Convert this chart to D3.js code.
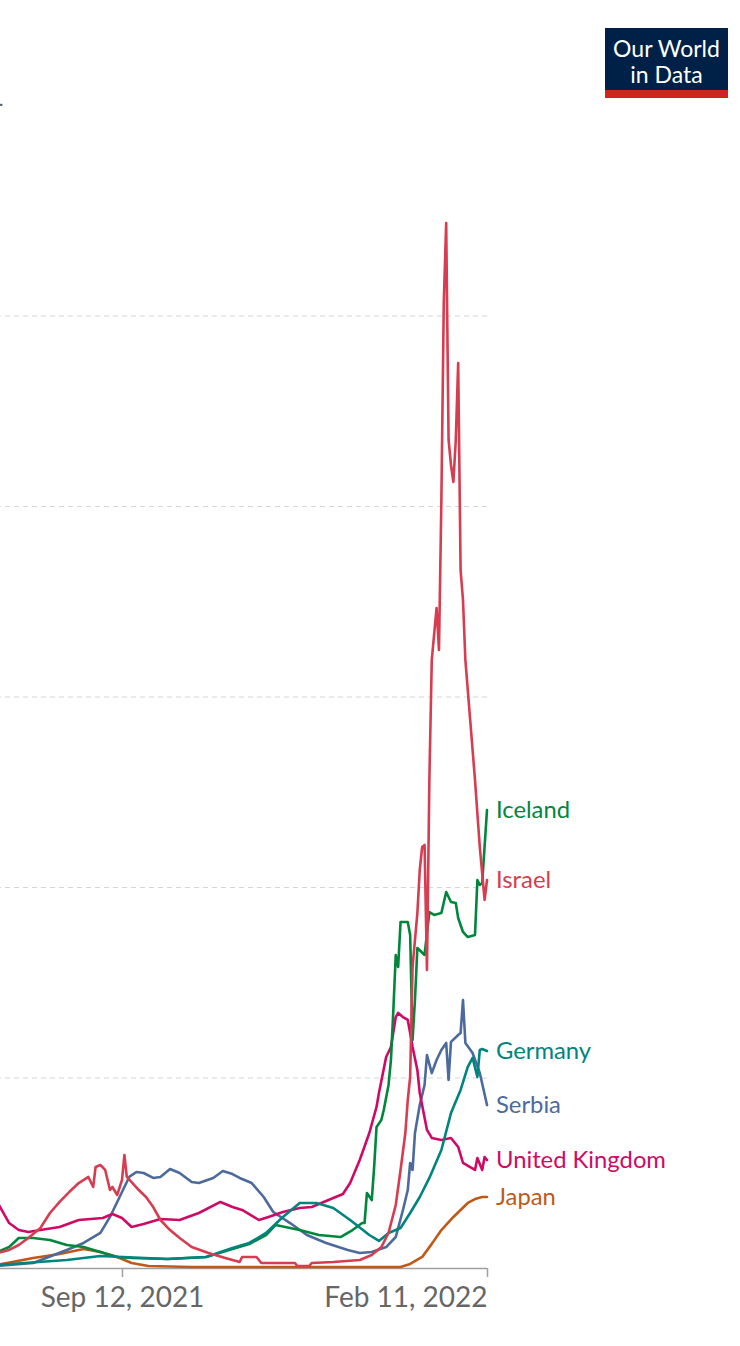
<!DOCTYPE html>
<html><head><meta charset="utf-8">
<script src="https://cdn.jsdelivr.net/npm/d3@7"></script>
<style>
html,body{margin:0;padding:0;background:#fff;overflow:hidden;}
svg{display:block;font-family:Lato,"Noto Sans",sans-serif;}
</style></head><body>
<svg id="chart" width="740" height="1346"></svg>
<script>
// ---- data (daily new confirmed COVID-19 cases per million, 7-day avg) ----
const countries = ["Japan", "Serbia", "United Kingdom", "Iceland", "Germany", "Israel"];
const seriesColors = ["#c05917", "#4c6a9c", "#cf0a66", "#00873c", "#00847e", "#d73c50"];

const japan = [["2021-07-22",24],["2021-08-06",79],["2021-08-17",110],["2021-08-27",150],["2021-09-03",126],
  ["2021-09-10",87],["2021-09-16",39],["2021-09-23",16],["2021-10-11",8],["2022-01-06",8],["2022-01-10",32],
  ["2022-01-15",87],["2022-01-19",190],["2022-01-23",299],["2022-01-28",402],["2022-01-31",457],
  ["2022-02-03",512],["2022-02-06",543],["2022-02-09",559],["2022-02-11",559]];

const serbia = [["2021-07-22",16],["2021-08-06",39],["2021-08-20",142],["2021-08-27",197],["2021-09-03",276],
  ["2021-09-07",402],["2021-09-11",559],["2021-09-15",717],["2021-09-18",756],["2021-09-21",748],
  ["2021-09-25",709],["2021-09-28",717],["2021-10-02",780],["2021-10-06",748],["2021-10-11",677],
  ["2021-10-14",669],["2021-10-20",709],["2021-10-24",764],["2021-10-28",740],["2021-10-31",709],
  ["2021-11-05",669],["2021-11-10",559],["2021-11-14",441],["2021-11-21",354],["2021-11-28",260],
  ["2021-12-06",197],["2021-12-15",142],["2021-12-20",118],["2021-12-25",126],["2021-12-31",165],
  ["2022-01-04",244],["2022-01-07",457],["2022-01-09",614],["2022-01-10",827],["2022-01-11",772],
  ["2022-01-12",1063],["2022-01-14",1283],["2022-01-16",1441],["2022-01-17",1677],["2022-01-19",1535],
  ["2022-01-21",1638],["2022-01-23",1717],["2022-01-25",1772],["2022-01-26",1480],["2022-01-27",1780],
  ["2022-01-30",1835],["2022-01-31",1850],["2022-02-01",2110],["2022-02-02",1772],["2022-02-05",1693],
  ["2022-02-08",1535],["2022-02-11",1283]];

const unitedKingdom = [["2021-07-22",520],["2021-07-27",354],["2021-07-31",299],["2021-08-04",283],
  ["2021-08-09",299],["2021-08-17",323],["2021-08-25",378],["2021-09-04",394],["2021-09-08",425],
  ["2021-09-12",394],["2021-09-16",323],["2021-09-21",346],["2021-09-28",386],["2021-10-06",378],
  ["2021-10-14",433],["2021-10-23",520],["2021-10-28",480],["2021-11-01",457],["2021-11-08",378],
  ["2021-11-12",402],["2021-11-18",441],["2021-11-25",472],["2021-11-30",480],["2021-12-07",535],
  ["2021-12-13",583],["2021-12-16",669],["2021-12-20",850],["2021-12-24",1063],["2021-12-27",1268],
  ["2021-12-28",1378],["2021-12-31",1661],["2022-01-02",1740],["2022-01-04",1976],["2022-01-05",2008],
  ["2022-01-07",1976],["2022-01-09",1953],["2022-01-10",1850],["2022-01-11",1740],["2022-01-13",1559],
  ["2022-01-14",1378],["2022-01-17",1087],["2022-01-19",1024],["2022-01-23",1008],["2022-01-27",1024],
  ["2022-01-30",953],["2022-02-01",827],["2022-02-04",795],["2022-02-06",772],["2022-02-07",866],
  ["2022-02-09",772],["2022-02-10",874],["2022-02-11",850]];

const iceland = [["2021-07-22",126],["2021-07-27",165],["2021-07-31",236],["2021-08-06",236],
  ["2021-08-13",220],["2021-08-20",181],["2021-08-27",165],["2021-09-03",126],["2021-09-10",87],
  ["2021-09-16",79],["2021-10-01",71],["2021-10-17",87],["2021-10-28",150],["2021-11-04",189],
  ["2021-11-11",260],["2021-11-15",339],["2021-11-25",299],["2021-12-03",260],["2021-12-12",244],
  ["2021-12-17",299],["2021-12-21",354],["2021-12-22",354],["2021-12-23",591],["2021-12-25",535],
  ["2021-12-26",795],["2021-12-27",1110],["2021-12-29",1165],["2021-12-30",1244],["2022-01-01",1441],
  ["2022-01-02",1638],["2022-01-03",2031],["2022-01-04",2465],["2022-01-05",2370],["2022-01-06",2724],
  ["2022-01-08",2724],["2022-01-09",2724],["2022-01-10",2622],["2022-01-11",1795],["2022-01-12",2110],
  ["2022-01-13",2520],["2022-01-16",2465],["2022-01-18",2803],["2022-01-20",2780],["2022-01-23",2795],
  ["2022-01-25",2961],["2022-01-27",2882],["2022-01-29",2874],["2022-01-30",2756],["2022-02-01",2646],
  ["2022-02-03",2606],["2022-02-06",2622],["2022-02-07",3055],["2022-02-08",3016],["2022-02-09",3032],
  ["2022-02-11",3606]];

const germany = [["2021-07-22",24],["2021-08-20",63],["2021-09-03",94],["2021-10-01",71],["2021-10-17",87],
  ["2021-10-28",157],["2021-11-04",197],["2021-11-11",276],["2021-11-18",402],["2021-11-25",512],
  ["2021-12-02",512],["2021-12-09",472],["2021-12-16",378],["2021-12-24",260],["2021-12-28",213],
  ["2022-01-01",276],["2022-01-06",315],["2022-01-10",433],["2022-01-14",559],["2022-01-18",709],
  ["2022-01-23",929],["2022-01-27",1220],["2022-01-31",1402],["2022-02-03",1583],["2022-02-05",1654],
  ["2022-02-07",1504],["2022-02-08",1717],["2022-02-09",1724],["2022-02-11",1709]];

const israel = [["2021-07-22",118],["2021-07-27",142],["2021-07-31",181],["2021-08-04",236],
  ["2021-08-09",315],["2021-08-13",433],["2021-08-17",520],["2021-08-21",598],["2021-08-25",669],
  ["2021-08-29",717],["2021-08-31",638],["2021-09-01",795],["2021-09-03",811],["2021-09-05",772],
  ["2021-09-07",614],["2021-09-08",638],["2021-09-10",575],["2021-09-12",693],["2021-09-13",890],
  ["2021-09-14",717],["2021-09-16",677],["2021-09-19",614],["2021-09-22",559],["2021-09-25",480],
  ["2021-09-28",378],["2021-10-02",299],["2021-10-06",236],["2021-10-11",165],["2021-10-18",118],
  ["2021-10-25",79],["2021-10-31",47],["2021-11-01",87],["2021-11-07",87],["2021-11-09",39],
  ["2021-11-23",39],["2021-11-24",16],["2021-11-29",16],["2021-11-30",39],["2021-12-09",47],
  ["2021-12-20",63],["2021-12-25",102],["2021-12-29",165],["2022-01-01",276],["2022-01-04",496],
  ["2022-01-06",772],["2022-01-08",1063],["2022-01-09",1323],["2022-01-10",1504],["2022-01-11",2370],
  ["2022-01-13",2795],["2022-01-14",3134],["2022-01-15",3315],["2022-01-16",3331],["2022-01-17",2346],
  ["2022-01-18",3843],["2022-01-19",4787],["2022-01-21",5197],["2022-01-22",4866],["2022-01-23",6047],
  ["2022-01-24",7599],["2022-01-25",8228],["2022-01-26",6520],["2022-01-27",6323],["2022-01-28",6189],
  ["2022-01-29",6520],["2022-01-30",7126],["2022-01-31",5496],["2022-02-01",5260],["2022-02-02",4787],
  ["2022-02-04",4315],["2022-02-06",3843],["2022-02-08",3315],["2022-02-10",2898],["2022-02-11",3055]];

const seriesData = [japan, serbia, unitedKingdom, iceland, germany, israel];
const yTicks = [0, 1500, 3000, 4500, 6000, 7500];
const xTicks = ["2021-09-12", "2022-02-11"];
const xTickLabels = ["Sep 12, 2021", "Feb 11, 2022"];

// ---- drawing ----
const parse = d3.utcParse("%Y-%m-%d");
const svg = d3.select("#chart");

const x = d3.scaleUtc().domain([parse(xTicks[0]), parse(xTicks[1])]).range([122, 487]);
const y = d3.scaleLinear().domain([0, 7500]).range([1268, 315.5]);

// end of the subtitle line, visible at the cropped left edge
svg.append("text").attr("x", -1.2).attr("y", 105.5)
  .attr("font-size", 20).attr("fill", "#4a5a70").text(".");

// gridlines via axis (value labels lie outside the cropped view, so none drawn)
const yAxis = d3.axisLeft(y).tickValues(yTicks).tickSize(487 + 300).tickFormat("");
const gy = svg.append("g").attr("transform", "translate(487,0)").call(yAxis);
gy.select(".domain").remove();
gy.selectAll(".tick text").remove();
gy.selectAll(".tick line").attr("stroke", "#d6d6d6").attr("stroke-dasharray", "5,4").attr("stroke-width", 1.2)
  .filter(d => d === 0).remove();

// x axis
const xAxis = d3.axisBottom(x).tickValues(xTicks.map(parse)).tickSize(9).tickFormat((d, i) => xTickLabels[i]);
const gx = svg.append("g").attr("transform", `translate(0,${y(0)})`).call(xAxis);
gx.select(".domain").attr("d", `M-300,0.5H${x(parse(xTicks[1]))}`).attr("stroke", "#a0a0a0").attr("stroke-width", 1.5);
gx.selectAll(".tick line").attr("stroke", "#a0a0a0").attr("stroke-width", 1.5);
gx.selectAll(".tick text").attr("font-size", 28).attr("fill", "#666").attr("font-family", "Lato, sans-serif")
  .attr("dy", "0.71em").attr("y", 19)
  .attr("text-anchor", (d, i) => i === xTicks.length - 1 ? "end" : "middle");

// lines
const line = d3.line().x(d => x(parse(d[0]))).y(d => y(d[1])).curve(d3.curveLinear);
svg.append("g").selectAll("path").data(seriesData).join("path")
  .attr("d", line).attr("fill", "none")
  .attr("stroke", (d, i) => seriesColors[i]).attr("stroke-width", 2.6)
  .attr("stroke-linejoin", "round").attr("stroke-linecap", "round");

// end labels
svg.append("g").selectAll("text").data(seriesData).join("text")
  .attr("x", 496)
  .attr("y", d => y(d[d.length - 1][1]))
  .attr("dy", "0.35em")
  .attr("font-size", 23.8).attr("fill", (d, i) => seriesColors[i])
  .text((d, i) => countries[i]);

// logo
const logo = svg.append("g").attr("transform", "translate(605,28)");
logo.append("rect").attr("width", 123).attr("height", 70).attr("fill", "#002147");
logo.append("rect").attr("y", 62).attr("width", 123).attr("height", 8).attr("fill", "#ce261e");
logo.append("text").attr("x", 61.5).attr("y", 28.5).attr("text-anchor", "middle").attr("fill", "#fff")
  .attr("font-size", 23).text("Our World");
logo.append("text").attr("x", 61.5).attr("y", 55).attr("text-anchor", "middle").attr("fill", "#fff")
  .attr("font-size", 23).text("in Data");
</script>
</body></html>
